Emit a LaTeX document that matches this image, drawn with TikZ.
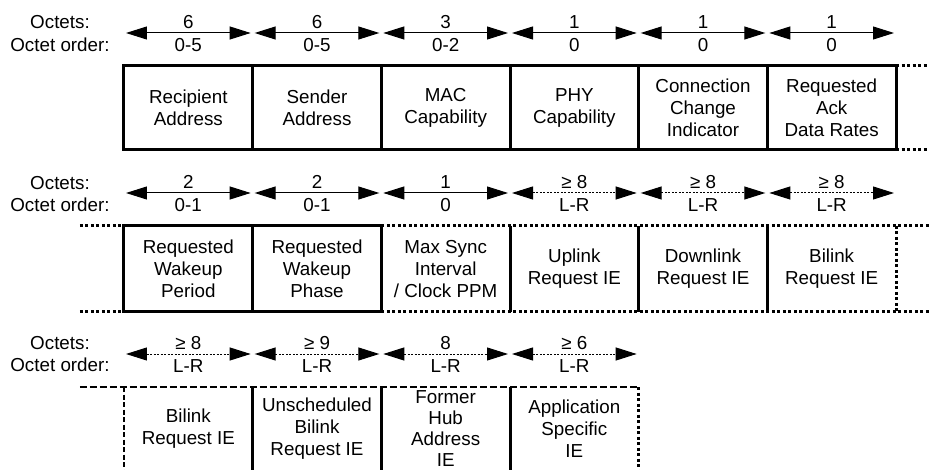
\documentclass[tikz,border=0pt]{standalone}
\usepackage{fontspec}
\setmainfont{Liberation Sans}
\usetikzlibrary{arrows.meta}
\newcommand{\cellfont}{\fontsize{18.8}{22}\selectfont}
\newcommand{\dimarr}[4]{%
  \draw[#2] ([xshift=2pt,yshift=33pt]#1.north west) -- ([xshift=-2pt,yshift=33pt]#1.north east);
  \node[lbl] (#1n) at ([yshift=44pt]#1.north) {#3};
  \node[lbl] (#1o) at ([yshift=21pt]#1.north) {#4};}
\begin{document}
\begin{tikzpicture}[x=1pt,y=-1pt,
  cell/.style={minimum width=128.67pt, inner sep=0pt, outer sep=0pt, align=center, font=\cellfont},
  lbl/.style={inner sep=0pt, outer sep=0pt, align=center, font=\cellfont},
  arr/.style={line width=1pt, {Triangle[length=21pt,width=13pt]}-{Triangle[length=21pt,width=13pt]}},
  darr/.style={arr, dash pattern=on 2pt off 1.5pt},
  solidb/.style={line width=3pt},
  dotb/.style={line width=3pt, dash pattern=on 3pt off 2.5pt},
  dashb/.style={line width=2.6pt, dash pattern=on 7pt off 3pt},
  dashv/.style={line width=2.8pt, dash pattern=on 5pt off 2.5pt}]
\useasboundingbox (0,0) rectangle (929,470);

% ---------- Row 1 ----------
\node[lbl] (oct1) at (60,22) {Octets:};
\node[lbl] (ord1) at (60,45) {Octet order:};
\node[cell,minimum height=84pt] (a1) at (188.33,108) {Recipient\\Address};
\node[cell,minimum height=84pt] (a2) at (317,108) {Sender\\Address};
\node[cell,minimum height=84pt] (a3) at (445.67,108) {MAC\\Capability};
\node[cell,minimum height=84pt] (a4) at (574.33,108) {PHY\\Capability};
\node[cell,minimum height=84pt] (a5) at (703,108) {Connection\\Change\\Indicator};
\node[cell,minimum height=84pt] (a6) at (831.67,108) {Requested\\Ack\\Data Rates};
\dimarr{a1}{arr}{6}{0-5}
\dimarr{a2}{arr}{6}{0-5}
\dimarr{a3}{arr}{3}{0-2}
\dimarr{a4}{arr}{1}{0}
\dimarr{a5}{arr}{1}{0}
\dimarr{a6}{arr}{1}{0}
\draw[solidb] (a1.north west) rectangle (a6.south east);
\foreach \n in {a1,a2,a3,a4,a5} \draw[solidb] (\n.north east) -- (\n.south east);
\draw[dotb] (a6.north east) -- ([xshift=33pt]a6.north east);
\draw[dotb] (a6.south east) -- ([xshift=33pt]a6.south east);

% ---------- Row 2 ----------
\node[lbl] (oct2) at (60,183) {Octets:};
\node[lbl] (ord2) at (60,205) {Octet order:};
\node[cell,minimum height=86pt] (b1) at (188.33,269) {Requested\\Wakeup\\Period};
\node[cell,minimum height=86pt] (b2) at (317,269) {Requested\\Wakeup\\Phase};
\node[cell,minimum height=86pt] (b3) at (445.67,269) {Max Sync\\Interval\\/ Clock PPM};
\node[cell,minimum height=86pt] (b4) at (574.33,269) {Uplink\\Request IE};
\node[cell,minimum height=86pt] (b5) at (703,269) {Downlink\\Request IE};
\node[cell,minimum height=86pt] (b6) at (831.67,269) {Bilink\\Request IE};
\dimarr{b1}{arr}{2}{0-1}
\dimarr{b2}{arr}{2}{0-1}
\dimarr{b3}{arr}{1}{0}
\dimarr{b4}{darr}{≥ 8}{L-R}
\dimarr{b5}{darr}{≥ 8}{L-R}
\dimarr{b6}{darr}{≥ 8}{L-R}
\draw[dotb] ([xshift=-44pt]b1.north west) -- (b1.north west);
\draw[dotb] ([xshift=-44pt]b1.south west) -- (b1.south west);
\draw[dotb] (b2.north east) -- ([xshift=33pt]b6.north east);
\draw[dotb] (b2.south east) -- ([xshift=33pt]b6.south east);
\draw[solidb] (b1.north west) rectangle (b2.south east);
\draw[solidb] (b1.north east) -- (b1.south east);
\foreach \n in {b3,b4,b5} \draw[solidb] (\n.north east) -- (\n.south east);
\draw[dotb] (b6.north east) -- (b6.south east);

% ---------- Row 3 ----------
\node[lbl] (oct3) at (60,343) {Octets:};
\node[lbl] (ord3) at (60,365) {Octet order:};
\node[cell,minimum height=83pt] (c1) at (188.33,428.5) {Bilink\\Request IE};
\node[cell,minimum height=83pt] (c2) at (317,428.5) {Unscheduled\\Bilink\\Request IE};
\node[cell,minimum height=83pt,font=\fontsize{18.8}{21.3}\selectfont] (c3) at (445.67,428.5) {Former\\Hub\\Address\\IE};
\node[cell,minimum height=83pt] (c4) at (574.33,428.5) {Application\\Specific\\IE};
\dimarr{c1}{darr}{≥ 8}{L-R}
\dimarr{c2}{darr}{≥ 9}{L-R}
\dimarr{c3}{darr}{8}{L-R}
\dimarr{c4}{darr}{≥ 6}{L-R}
\draw[dashb] ([xshift=-44pt]c1.north west) -- (c4.north east);
\draw[dashv] (c1.north west) -- (c1.south west);
\foreach \n in {c1,c2,c3} \draw[solidb] (\n.north east) -- (\n.south east);
\draw[dotb] (c4.north east) -- (c4.south east);
\end{tikzpicture}
\end{document}
